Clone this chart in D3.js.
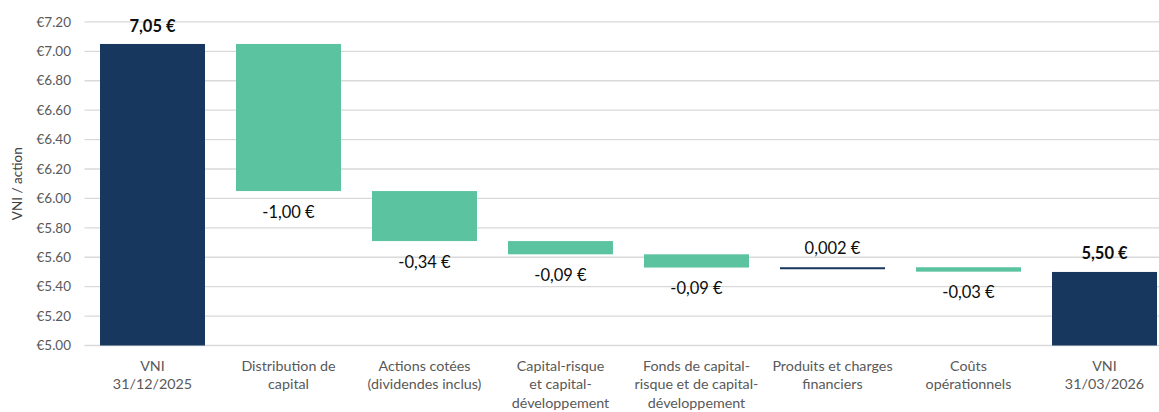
<!DOCTYPE html>
<html>
<head>
<meta charset="utf-8">
<script src="https://cdn.jsdelivr.net/npm/d3@7"></script>
<style>
  body { margin: 0; background: #fff; }
  svg text { font-family: Lato, "Open Sans", sans-serif; }
</style>
</head>
<body>
<div id="chart"></div>
<script>
// chart data
const categories = [
    'VNI\n31/12/2025',
    'Distribution de\ncapital',
    'Actions cotées\n(dividendes inclus)',
    'Capital-risque\net capital-\ndéveloppement',
    'Fonds de capital-\nrisque et de capital-\ndéveloppement',
    'Produits et charges\nfinanciers',
    'Coûts\nopérationnels',
    'VNI\n31/03/2026'
]
const changes = [7.05, -1.00, -0.34, -0.09, -0.09, 0.002, -0.03, 5.50]
const isTotal = [true, false, false, false, false, false, false, true]
const valueLabels = ['7,05 €', '-1,00 €', '-0,34 €', '-0,09 €', '-0,09 €', '0,002 €', '-0,03 €', '5,50 €']
const yTicks = [5.0, 5.2, 5.4, 5.6, 5.8, 6.0, 6.2, 6.4, 6.6, 6.8, 7.0, 7.2]

// build the waterfall steps
let running = 0
const steps = categories.map((c, i) => {
    let start, end
    if (isTotal[i]) {
        start = 5.0 // axis floor
        end = changes[i]
        running = changes[i]
    } else {
        start = running
        end = running + changes[i]
        running = end
    }
    return { cat: c, start, end, change: changes[i], total: isTotal[i], label: valueLabels[i] }
})

const dimension = { width: 1159, height: 412 }
const margin = { left: 84.5, right: -13.5, top: 21.9, bottom: 66.5 }

const svg = d3.select('#chart')
    .append('svg')
    .attr('width', dimension.width)
    .attr('height', dimension.height)

const x = d3.scaleBand()
    .domain(categories)
    .range([margin.left, dimension.width - margin.right])
    .paddingInner(0.228)
    .paddingOuter(0.114)

const y = d3.scaleLinear()
    .domain([5.0, 7.2])
    .range([dimension.height - margin.bottom, margin.top])

// gridlines
svg.append('g')
    .selectAll('line')
    .data(yTicks)
    .join('line')
    .attr('x1', margin.left)
    .attr('x2', dimension.width)
    .attr('y1', d => y(d))
    .attr('y2', d => y(d))
    .attr('stroke', '#d9d9d9')
    .attr('stroke-width', 1.3)

// y tick labels
svg.append('g')
    .selectAll('text')
    .data(yTicks)
    .join('text')
    .attr('x', 71)
    .attr('y', d => y(d))
    .attr('dy', '0.35em')
    .attr('text-anchor', 'end')
    .attr('fill', '#595959')
    .style('font-size', '13.5px')
    .text(d => '€' + d.toFixed(2))

// y title
svg.append('text')
    .attr('transform', `translate(22, ${(y(5.0) + y(7.2)) / 2}) rotate(-90)`)
    .attr('text-anchor', 'middle')
    .attr('fill', '#404040')
    .style('font-size', '13.5px')
    .text('VNI / action')

// bars
const navy = '#17375e'
const teal = '#5cc3a1'
svg.append('g')
    .selectAll('rect')
    .data(steps)
    .join('rect')
    .attr('x', d => x(d.cat))
    .attr('width', x.bandwidth())
    .attr('y', d => Math.min(y(d.start), y(d.end)))
    .attr('height', d => Math.max(2, Math.abs(y(d.start) - y(d.end))))
    .attr('fill', d => (d.total || d.change > 0) ? navy : teal)

// value labels
svg.append('g')
    .selectAll('text')
    .data(steps)
    .join('text')
    .attr('x', d => x(d.cat) + x.bandwidth() / 2)
    .attr('y', d => {
        if (d.change < 0 && !d.total) return y(d.end) + 21
        return Math.max(y(Math.max(d.start, d.end)) - 19, 26)
    })
    .attr('dy', '0.35em')
    .attr('text-anchor', 'middle')
    .attr('fill', '#0d0d0d')
    .style('font-size', '16.5px')
    .style('font-weight', d => d.total ? 'bold' : 'normal')
    .text(d => d.label)

// category labels
const catG = svg.append('g')
    .selectAll('text')
    .data(categories)
    .join('text')
    .attr('x', d => x(d) + x.bandwidth() / 2)
    .attr('y', y(5.0) + 20)
    .attr('text-anchor', 'middle')
    .attr('fill', '#595959')
    .style('font-size', '14.3px')

catG.selectAll('tspan')
    .data(d => d.split('\n'))
    .join('tspan')
    .attr('x', function () { return d3.select(this.parentNode).attr('x') })
    .attr('dy', (d, i) => i === 0 ? '0.35em' : '18.5')
    .text(d => d)
</script>
</body>
</html>
